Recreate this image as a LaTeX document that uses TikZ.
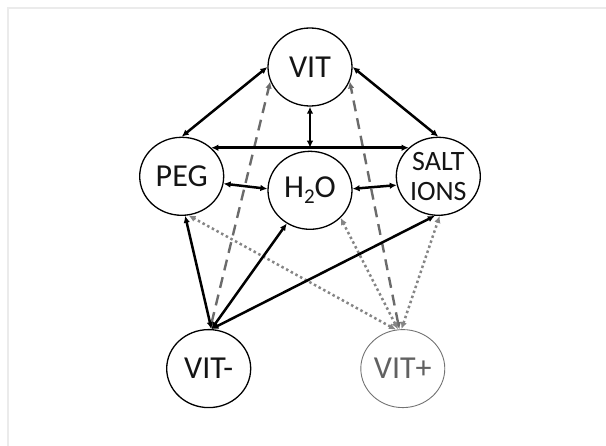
\documentclass[tikz,border=0pt]{standalone}
\usepackage{fontspec}
\setmainfont{Carlito}
\usetikzlibrary{shapes,arrows,positioning,calc,arrows.meta}

\begin{document}
\begin{tikzpicture}[x=1pt, y=-1pt, auto, node distance=44pt,
    >={Latex[length=7pt,width=6.5pt]},
    phase/.style={ellipse, draw, line width=1.3pt, minimum width=84pt, minimum height=78pt,
        inner sep=0pt, align=center, font=\fontsize{32}{32}\selectfont, text=black!92},
    link/.style={<->, line width=2.5pt},
    dashlink/.style={<->, draw=black!58, line width=2.4pt, dash pattern=on 11pt off 7pt},
    dotlink/.style={<->, draw=black!48, line width=2.5pt, dash pattern=on 2.5pt off 2.8pt}]
    \useasboundingbox (0,0) rectangle (606,446);
    \draw[black!8, line width=1.2pt] (606,8) -- (8,8) -- (8,446);

    \node [phase] (VIT) at (310,67) {VIT};
    \node [phase, below=of VIT] (H2O) {H\raisebox{-6pt}{\fontsize{21}{21}\selectfont 2}O};
    \node [phase, left=43pt of H2O, yshift=14pt] (PEG) {PEG};
    \node [phase, right=43pt of H2O, yshift=14pt, font=\fontsize{28}{30}\selectfont] (SALT) {SALT\\IONS};
    \node [phase, below=113pt of PEG, xshift=27pt] (VITm) {VIT-};
    \node [phase, right=109pt of VITm, draw=black!55, line width=0.9pt, text=black!62] (VITp) {VIT+};
    \coordinate (hub) at (VIT.south |- PEG.44);

    % gray links
    \draw[dashlink] (VITm.88) -- (VIT.200);
    \draw[dashlink] (VITp.95) -- (VIT.340);
    \draw[dotlink] (VITp.100) -- (PEG.280);
    \draw[dotlink] (VITp.97) -- (H2O.318);
    \draw[dotlink] (VITp.92) -- (SALT.272);

    % black links
    \draw[link] (VIT.180) -- (PEG.north);
    \draw[link] (VIT.0) -- (SALT.north);
    \draw[link] (PEG.44) -- (SALT.136);
    \draw[link] (VIT) -- (hub);
    \draw[link] (PEG.350) -- (H2O.178);
    \draw[link] (H2O.2) -- (SALT.192);
    \draw[link] (VITm.86) -- (PEG.275);
    \draw[link] (VITm.86) -- (H2O.235);
    \draw[link] (VITm.86) -- (SALT.265);
\end{tikzpicture}
\end{document}
